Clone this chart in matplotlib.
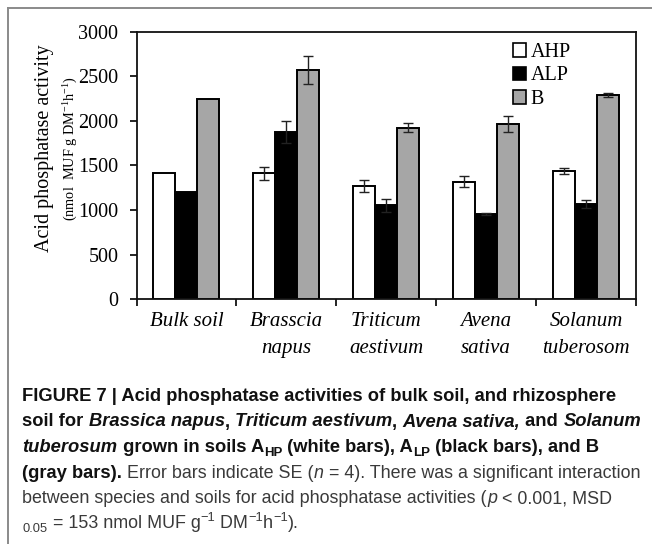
import matplotlib
matplotlib.use("Agg")
import matplotlib.pyplot as plt
import numpy as np
from matplotlib.patches import Patch
from matplotlib.lines import Line2D

# ---- data ----
categories = ["Bulk soil\n", "Brasscia\nnapus", "Triticum\naestivum", "Avena\nsativa", "Solanum\ntuberosom"]
series_names = ["AHP", "ALP", "B"]
ahp = [1412, 1412, 1270, 1318, 1438]
ahp_err = [0, 75, 65, 64, 30]
alp = [1206, 1879, 1054, 953, 1065]
alp_err = [0, 123, 75, 10, 45]
b_vals = [2242, 2571, 1924, 1965, 2290]
b_err = [0, 157, 50, 90, 25]
yticks = [0, 500, 1000, 1500, 2000, 2500, 3000]

W, H = 652, 544
DPI = 100
plt.rcParams['mathtext.fontset'] = 'custom'
plt.rcParams['mathtext.rm'] = 'Liberation Serif'
fig = plt.figure(figsize=(W / DPI, H / DPI), dpi=DPI)

def fx(px):
    return px / W

def fy(py):
    return 1 - py / H

# axes placement (pixel measured)
ax = fig.add_axes([fx(136.5), fy(299.3), fx(636) - fx(136.5), fy(31.7) - fy(299.3)])

serif = "Liberation Serif"
colors = ["white", "black", "#a6a6a6"]
vals = [ahp, alp, b_vals]
errs = [ahp_err, alp_err, b_err]
bw = 0.22
x = np.arange(len(categories))
for i, (v, e, c) in enumerate(zip(vals, errs, colors)):
    pos = x + (i - 1) * bw
    ax.bar(pos, v, width=bw, color=c, edgecolor="black", linewidth=1.4, zorder=2)
    idx = [k for k in range(len(v)) if e[k] > 0]
    ax.errorbar(pos[idx], np.array(v)[idx], yerr=np.array(e)[idx], fmt="none",
                ecolor="#222222", elinewidth=1.0, capsize=3.5, capthick=1.0, zorder=3)

ax.set_xlim(-0.5, len(categories) - 0.5)
ax.set_ylim(0, 3000)
ax.set_yticks(yticks)
ax.set_yticklabels([str(t) for t in yticks], fontfamily=serif, fontsize=14.5)
ax.tick_params(axis="y", direction="out", length=5, width=1.2, pad=8)
# major x ticks at boundaries, labels at minor ticks (centers)
ax.set_xticks(np.arange(-0.5, len(categories)), labels=[])
ax.tick_params(axis="x", which="major", direction="out", length=5, width=1.2)
ax.set_xticks(x, minor=True)
ax.set_xticklabels(categories, minor=True, fontfamily=serif, fontstyle="italic",
                   fontsize=15, linespacing=1.6)
ax.tick_params(axis="x", which="minor", length=0, pad=9)
for s in ax.spines.values():
    s.set_linewidth(1.3)
    s.set_color("#111111")

# y labels
fig.text(fx(45), fy(148), "Acid phosphatase activity", rotation=90, ha="center", va="center",
         fontfamily=serif, fontsize=14.5)
fig.text(fx(70), fy(149), r"(nmol  MUF g DM$^{\mathregular{-1}}$h$^{\mathregular{-1}}$)", rotation=90,
         ha="center", va="center", fontfamily=serif, fontsize=10.3)

# legend
handles = [Patch(facecolor=c, edgecolor="black", linewidth=1.2) for c in colors]
leg = ax.legend(handles, series_names, loc="upper right", bbox_to_anchor=(fx(571), fy(43)),
                bbox_transform=fig.transFigure, frameon=False,
                prop={"family": serif, "size": 14.5}, handlelength=0.65, handleheight=0.65,
                handletextpad=0.25, labelspacing=0.22, borderpad=0, borderaxespad=0)

# frame lines
fig.add_artist(Line2D([fx(8), fx(652)], [fy(8), fy(8)], color="#8a8a8a", lw=1.4))
fig.add_artist(Line2D([fx(8), fx(8)], [fy(8), fy(544)], color="#8a8a8a", lw=1.4))

# caption
renderer = fig.canvas.get_renderer()
CAP = 13.2
CAP_REG = 12.9
SANS = "Liberation Sans"
BOLD_C = "#111111"
REG_C = "#3a3a3a"

def width_of(s, **kw):
    t1 = fig.text(0, 0, "x" + s + "x", **kw)
    t2 = fig.text(0, 0, "xx", **kw)
    w = t1.get_window_extent(renderer).width - t2.get_window_extent(renderer).width
    t1.remove(); t2.remove()
    return w

def draw_line(segments, x0, yb):
    xc = x0
    for s, st in segments:
        tags = st.split()
        bold = "b" in tags or "bi" in tags
        ital = "i" in tags or "bi" in tags
        size = CAP if bold else CAP_REG
        dy = 0
        if "sub" in tags:
            size *= 0.72
            dy = -4
        if "sup" in tags:
            size *= 0.72
            dy = 7
        color = BOLD_C if bold else REG_C
        kw = dict(fontfamily=SANS, fontweight="bold" if bold else "normal",
                  fontstyle="italic" if ital else "normal", fontsize=size, color=color)
        fig.text(fx(xc), fy(yb - dy), s, va="baseline", ha="left", **kw)
        xc += width_of(s, **kw)

lines = [
    [("FIGURE 7 | Acid phosphatase activities of bulk soil, and rhizosphere", "b")],
    [("soil for ", "b"), ("Brassica napus", "bi"), (", ", "b"), ("Triticum aestivum", "bi"),
     (", ", "b"), ("Avena sativa,", "bi"), (" and ", "b"), ("Solanum", "bi")],
    [("tuberosum", "bi"), (" grown in soils A", "b"), ("HP", "b sub"), (" (white bars), A", "b"),
     ("LP", "b sub"), (" (black bars), and B", "b")],
    [("(gray bars).", "b"), (" Error bars indicate SE (", "r"), ("n", "i"),
     (" = 4). There was a significant interaction", "r")],
    [("between species and soils for acid phosphatase activities (", "r"), ("p", "i"),
     (" < 0.001, MSD", "r")],
    [("0.05", "r sub"), (" = 153 nmol MUF g", "r"), ("−1", "r sup"), (" DM", "r"), ("−1", "r sup"),
     ("h", "r"), ("−1", "r sup"), (").", "r")],
]
baselines = [401, 426.5, 452, 477.5, 503, 528]
for segs, yb in zip(lines, baselines):
    draw_line(segs, 22.5, yb)

fig.savefig("out.png", dpi=DPI)
